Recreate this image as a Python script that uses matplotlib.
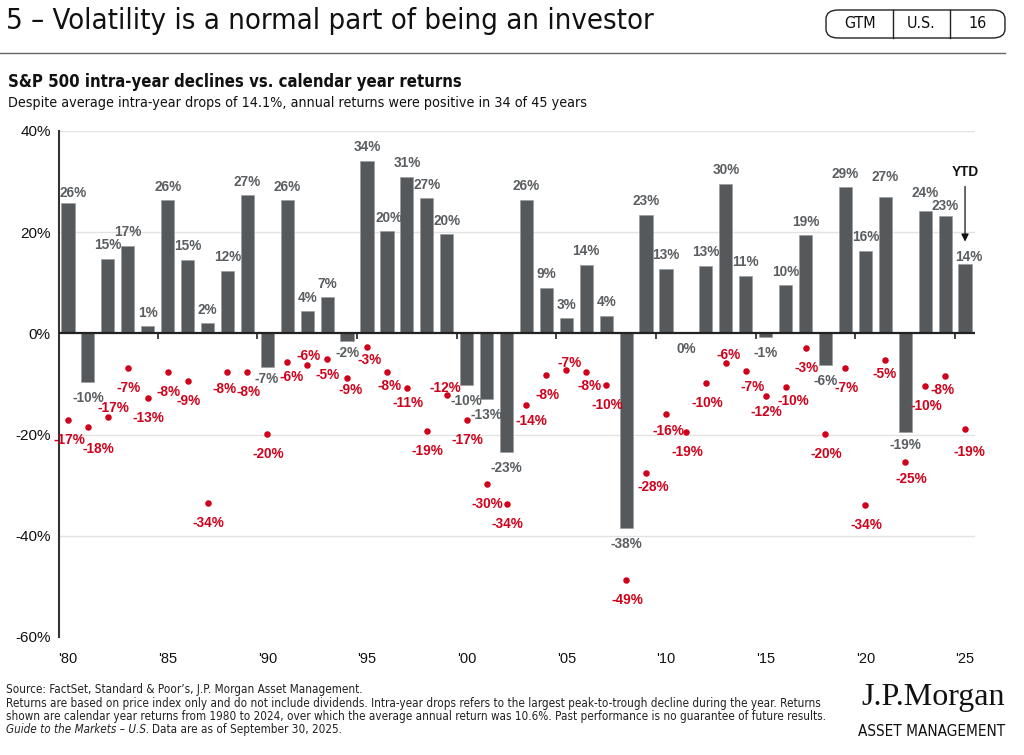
import matplotlib
matplotlib.use("Agg")
import matplotlib.pyplot as plt
from matplotlib.patches import FancyBboxPatch
from matplotlib.lines import Line2D

# S&P 500 calendar year returns and intra-year declines, 1980-2025 (2025 is YTD)
years = list(range(1980, 2026))
returns = [25.8, -9.7, 14.8, 17.3, 1.4, 26.3, 14.6, 2.0, 12.4, 27.3,
           -6.6, 26.3, 4.4, 7.1, -1.5, 34.1, 20.3, 31.0, 26.7, 19.6,
           -10.1, -13.0, -23.4, 26.4, 9.0, 3.0, 13.6, 3.5, -38.5, 23.4,
           12.8, 0.0, 13.4, 29.6, 11.4, -0.7, 9.5, 19.4, -6.2, 28.9,
           16.3, 26.9, -19.4, 24.2, 23.3, 13.7]
declines = [-17.1, -18.4, -16.6, -6.9, -12.7, -7.7, -9.4, -33.5, -7.6, -7.6,
            -19.9, -5.7, -6.2, -5.0, -8.9, -2.6, -7.6, -10.8, -19.3, -12.1,
            -17.2, -29.7, -33.8, -14.1, -8.2, -7.2, -7.7, -10.1, -48.8, -27.6,
            -16.0, -19.4, -9.9, -5.8, -7.4, -12.4, -10.5, -2.8, -19.8, -6.8,
            -33.9, -5.2, -25.4, -10.3, -8.4, -18.9]
yticks = [40, 20, 0, -20, -40, -60]
xlabel_years = list(range(1980, 2026, 5))
xlabels = ["'80", "'85", "'90", "'95", "'00", "'05", "'10", "'15", "'20", "'25"]

title = "5 \u2013 Volatility is a normal part of being an investor"
chart_title = "S&P 500 intra-year declines vs. calendar year returns"
subtitle = "Despite average intra-year drops of 14.1%, annual returns were positive in 34 of 45 years"
notes = [
    "Source: FactSet, Standard & Poor\u2019s, J.P. Morgan Asset Management.",
    "Returns are based on price index only and do not include dividends. Intra-year drops refers to the largest peak-to-trough decline during the year. Returns",
    "shown are calendar year returns from 1980 to 2024, over which the average annual return was 10.6%. Past performance is no guarantee of future results.",
]

# label placement tweaks in pixels: (dx, distance from mark), like the original layout
bar_nudge = {1980: (5, 10), 1996: (2, 13), 2021: (0, 20), 2023: (0, 18), 2024: (0, 10),
             2025: (4, 7), 1990: (-1, 12), 1994: (1, 12.5), 2022: (0, 13)}
dot_nudge = {1981: (10, 22), 1982: (6, -9), 1988: (-3, 17), 1991: (4, 15), 1992: (1, -9),
             1993: (1, 16), 1994: (4, 12), 1995: (3, 13), 1996: (3, 14), 1997: (1, 15),
             1999: (-1, -7), 2003: (5, 16), 2005: (3, -7), 2006: (3, 14), 2009: (7, 14),
             2010: (2, 17), 2013: (3, -8), 2014: (7, 16), 2015: (1, 16), 2016: (8, 14),
             2021: (-1, 14), 2022: (6, 17), 2024: (-3, 14), 2025: (4, 23)}

BAR = "#55595c"
RED = "#d0021b"
GRAY_TXT = "#5a5e61"
SANS = ["Liberation Sans", "DejaVu Sans"]
COND = dict(family=["DejaVu Sans"], stretch="condensed")
PT = 0.72  # points per pixel at 100 dpi

plt.rcParams["font.family"] = SANS

fig = plt.figure(figsize=(10.24, 7.55), dpi=100)
W, H = 1024, 755


def fx(px):
    return px / W


def fy(py):
    return 1 - py / H


# header
fig.text(fx(6), fy(21), title, fontsize=21, va="center", ha="left", color="#111", **COND)
box = FancyBboxPatch((fx(826), fy(38)), fx(1005) - fx(826), fy(10) - fy(38),
                     boxstyle="round,pad=0,rounding_size=0.012", transform=fig.transFigure,
                     fill=False, edgecolor="#222", linewidth=1)
fig.patches.append(box)
for xd in (893, 950):
    fig.add_artist(Line2D([fx(xd), fx(xd)], [fy(10), fy(38)], transform=fig.transFigure,
                          color="#222", linewidth=1))
for xt, t in ((860, "GTM"), (921, "U.S."), (978, "16")):
    fig.text(fx(xt), fy(24), t, fontsize=11.5, ha="center", va="center", color="#111", **COND)
fig.add_artist(Line2D([0, fx(1005)], [fy(53), fy(53)], transform=fig.transFigure,
                      color="#666", linewidth=1))

fig.text(fx(8), fy(82), chart_title, fontsize=12, fontweight="bold", va="center",
         color="#111", **COND)
fig.text(fx(8), fy(103), subtitle, fontsize=10.3, va="center", color="#111", **COND)

# chart
ax = fig.add_axes([fx(59), fy(637), fx(975) - fx(59), fy(131) - fy(637)])
ax.set_xlim(1979.55, 2025.5)
ax.set_ylim(-60, 40)

for yv in yticks:
    if yv not in (0, -60):
        ax.axhline(yv, color="#e3e3e3", linewidth=1, zorder=0)

ax.bar(years, returns, width=0.66, color=BAR, edgecolor="#9a9ea0", linewidth=0.5, zorder=2)
ax.axhline(0, color="#222", linewidth=1.6, zorder=3)
ax.scatter(years, declines, s=22, color=RED, zorder=4, linewidths=0)

for yr, r in zip(years, returns):
    lab = f"{round(r):d}%"
    if r > 0:
        dx, dist = bar_nudge.get(yr, (0, 13.5))
        dy = dist
    else:
        dx, dist = bar_nudge.get(yr, (0, 16))
        dy = -dist
    ax.annotate(lab, (yr, r), xytext=(dx * PT, dy * PT), textcoords="offset points",
                ha="center", va="center", fontsize=9.8, fontweight="bold", color=GRAY_TXT, zorder=5)

for yr, d in zip(years, declines):
    dx, dist = dot_nudge.get(yr, (1, 20))
    ax.annotate(f"{round(d):d}%", (yr, d), xytext=(dx * PT, -dist * PT), textcoords="offset points",
                ha="center", va="center", fontsize=9.8, fontweight="bold", color=RED, zorder=5)

# tick marks below the zero line, between bars
for xt in range(1984, 2025, 5):
    ax.plot([xt + 0.5, xt + 0.5], [0, -1.1], color="#222", linewidth=1.2, zorder=3,
            solid_capstyle="butt")

# YTD marker
ax.annotate("", xy=(2025, 17.6), xytext=(2025, 29.6),
            arrowprops=dict(arrowstyle="-|>", color="#111", lw=0.9, mutation_scale=11))
ax.text(2025, 31.9, "YTD", ha="center", va="center", fontsize=9.8, fontweight="bold", color="#111")

ax.set_yticks(yticks)
ax.set_yticklabels([f"{v}%" for v in yticks], fontsize=11, color="#111")
ax.set_xticks(xlabel_years)
ax.set_xticklabels(xlabels, fontsize=10.5, color="#111")
ax.tick_params(axis="both", length=0, pad=6)
ax.tick_params(axis="x", pad=11)
for s in ("top", "right", "bottom"):
    ax.spines[s].set_visible(False)
ax.spines["left"].set_color("#333")
ax.spines["left"].set_linewidth(1.5)

# footnotes
fy0 = 690
for i, line in enumerate(notes):
    fig.text(fx(6), fy(fy0 + i * 13.3), line, fontsize=8.4, va="center", color="#222", **COND)
t1 = fig.text(fx(6), fy(fy0 + 3 * 13.3), "Guide to the Markets \u2013 U.S.", fontsize=8.4,
              style="italic", va="center", color="#222", **COND)
fig.canvas.draw()
bb = t1.get_window_extent()
fig.text(bb.x1 / W + fx(3), fy(fy0 + 3 * 13.3), "Data are as of September 30, 2025.",
         fontsize=8.4, va="center", color="#222", **COND)

# logo
fig.text(fx(1005), fy(697), "J.P.Morgan", fontsize=23, family=["Liberation Serif", "DejaVu Serif"],
         ha="right", va="center", color="#111")
fig.text(fx(1005), fy(731), "ASSET MANAGEMENT", fontsize=11, ha="right", va="center",
         color="#111", **COND)

fig.savefig("out.png", dpi=100, facecolor="white")
